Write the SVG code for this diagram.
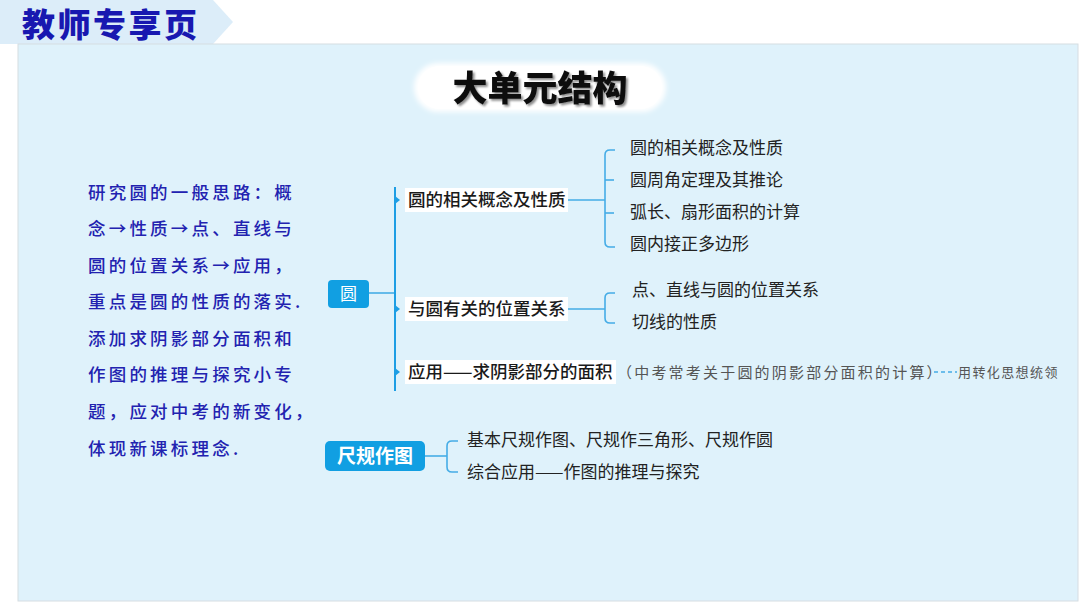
<svg xmlns="http://www.w3.org/2000/svg" width="1080" height="607" viewBox="0 0 1080 607">
<defs>
<style>
.cjk{font-family:"Noto Sans CJK SC","Noto Sans",sans-serif}
.lbl{font-size:17.5px;fill:#1a1a1a;font-weight:500}
.item{font-size:17px;fill:#222;font-weight:400}
.note{font-size:17.5px;fill:#2222b0;font-weight:500;letter-spacing:3.2px}
.conn{fill:none;stroke:#45ace6;stroke-width:1.6}
.main{fill:none;stroke:#1d9ee4;stroke-width:2}
.tick{fill:#1d9ee4}
.node{fill:#119fe2}
</style>
<filter id="soft" x="-10%" y="-30%" width="120%" height="160%"><feGaussianBlur stdDeviation="2.5"/></filter>
<filter id="tsh" x="-10%" y="-20%" width="130%" height="150%"><feDropShadow dx="2" dy="2" stdDeviation="1.2" flood-color="#000" flood-opacity="0.45"/></filter>
</defs>
<rect x="0" y="0" width="1080" height="607" fill="#ffffff"/>
<g id="banner">
<polygon points="0,0 213,0 233,22 213,44 0,44" fill="#dcedf9"/>
<text x="22" y="37" class="cjk" font-size="33" font-weight="900" fill="#1818b0" letter-spacing="2.5">教师专享页</text>
</g>
<g id="panel">
<rect x="18" y="44" width="1060" height="557" fill="#dff2fb" stroke="#d6dde2" stroke-width="1"/>
</g>
<g id="title">
<rect x="414" y="63" width="252" height="49" rx="24.5" fill="#ffffff" filter="url(#soft)"/>
<rect x="418" y="66" width="244" height="43" rx="21.5" fill="#ffffff"/>
<text x="540" y="101" text-anchor="middle" class="cjk" font-size="35" font-weight="900" fill="#111" filter="url(#tsh)">大单元结构</text>
</g>
<g id="notes" class="cjk note">
<text x="88" y="199">研究圆的一般思路：概</text>
<text x="88" y="235">念→性质→点、直线与</text>
<text x="88" y="272">圆的位置关系→应用，</text>
<text x="88" y="308">重点是圆的性质的落实.</text>
<text x="88" y="345">添加求阴影部分面积和</text>
<text x="88" y="381">作图的推理与探究小专</text>
<text x="88" y="418">题，应对中考的新变化，</text>
<text x="88" y="455">体现新课标理念.</text>
</g>
<g id="connectors">
<line x1="369" y1="293" x2="395" y2="293" class="conn"/>
<line x1="395" y1="187" x2="395" y2="391" class="main"/>
<polygon points="395,196 400,200 395,204" class="tick"/>
<polygon points="395,305 400,309 395,313" class="tick"/>
<polygon points="395,368 400,372 395,376" class="tick"/>
<line x1="567" y1="200" x2="605" y2="200" class="conn"/>
<path d="M615,150 H610 Q605,150 605,155 V242 Q605,247 610,247 H615" class="conn"/>
<line x1="605" y1="180" x2="614" y2="180" class="conn"/>
<line x1="605" y1="213" x2="614" y2="213" class="conn"/>
<line x1="567" y1="309" x2="605" y2="309" class="conn"/>
<path d="M615,293 H610 Q605,293 605,298 V318 Q605,323 610,323 H615" class="conn"/>
<line x1="934" y1="372" x2="957" y2="372" stroke="#45ace6" stroke-width="1.4" stroke-dasharray="4,3"/>
<line x1="425" y1="456" x2="447" y2="456" class="conn"/>
<path d="M458,441 H452 Q447,441 447,446 V467 Q447,472 452,472 H458" class="conn"/>
</g>
<g id="node-yuan">
<rect x="328" y="280" width="41" height="28" rx="4" class="node"/>
<text x="348.5" y="300" text-anchor="middle" class="cjk" font-size="17" fill="#fff">圆</text>
</g>
<g id="node-concept">
<rect x="405" y="188" width="163" height="24" fill="#fff"/>
<text x="408" y="206" class="cjk lbl">圆的相关概念及性质</text>
</g>
<g id="node-position">
<rect x="405" y="297" width="163" height="24" fill="#fff"/>
<text x="408" y="315" class="cjk lbl">与圆有关的位置关系</text>
</g>
<g id="node-apply">
<rect x="405" y="360" width="211" height="24" fill="#fff"/>
<text x="408" y="378" class="cjk lbl">应用——求阴影部分的面积</text>
</g>
<g id="node-apply-note">
<text x="617" y="378" class="cjk" font-size="15" fill="#555" letter-spacing="2.2">（中考常考关于圆的阴影部分面积的计算）</text>
<text x="958" y="377" class="cjk" font-size="13" fill="#555" letter-spacing="1.4">用转化思想统领</text>
</g>
<g id="items-concept" class="cjk item">
<text x="630" y="154">圆的相关概念及性质</text>
<text x="630" y="186">圆周角定理及其推论</text>
<text x="630" y="218">弧长、扇形面积的计算</text>
<text x="630" y="250">圆内接正多边形</text>
</g>
<g id="items-position" class="cjk item">
<text x="632" y="296">点、直线与圆的位置关系</text>
<text x="632" y="328">切线的性质</text>
</g>
<g id="node-chigui">
<rect x="325" y="441" width="100" height="30" rx="5" class="node"/>
<text x="375" y="463" text-anchor="middle" class="cjk" font-size="19" font-weight="700" fill="#fff">尺规作图</text>
</g>
<g id="items-chigui" class="cjk item">
<text x="467" y="446">基本尺规作图、尺规作三角形、尺规作圆</text>
<text x="467" y="478">综合应用——作图的推理与探究</text>
</g>
</svg>
